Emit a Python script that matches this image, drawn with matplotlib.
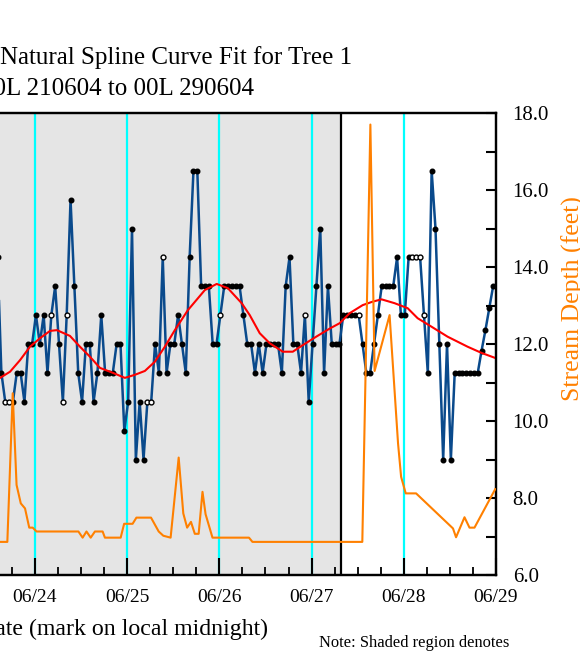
import numpy as np
import matplotlib
matplotlib.use("Agg")
import matplotlib.pyplot as plt
from matplotlib.ticker import MultipleLocator

plt.rcParams['font.family'] = ['Liberation Serif', 'DejaVu Serif']

# x axis is hours since 06/21 00:00 local; only the last days are in view
day_hours = [72, 96, 120, 144, 168, 192]
day_labels = ["06/24", "06/25", "06/26", "06/27", "06/28", "06/29"]
shade_end = 151.6  # end of shaded region (hours)

# hourly sap readings (left axis), first sample 06/23 14:00
sap_start = 62.25
sap_vals = [14.25, 11.25, 10.5, 10.5, 10.5, 11.25, 11.25, 10.5, 12.0, 12.0,
            12.75, 12.0, 12.75, 11.25, 12.75, 13.5, 12.0, 10.5, 12.75, 15.75,
            13.5, 11.25, 10.5, 12.0, 12.0, 10.5, 11.25, 12.75, 11.25, 11.25,
            11.25, 12.0, 12.0, 9.75, 10.5, 15.0, 9.0, 10.5, 9.0, 10.5,
            10.5, 12.0, 11.25, 14.25, 11.25, 12.0, 12.0, 12.75, 12.0, 11.25,
            14.25, 16.5, 16.5, 13.5, 13.5, 13.5, 12.0, 12.0, 12.75, 13.5,
            13.5, 13.5, 13.5, 13.5, 12.75, 12.0, 12.0, 11.25, 12.0, 11.25,
            12.0, 12.0, 12.0, 12.0, 11.25, 13.5, 14.25, 12.0, 12.0, 11.25,
            12.75, 10.5, 12.0, 13.5, 15.0, 11.25, 13.5, 12.0, 12.0, 12.0,
            12.75, 12.75, 12.75, 12.75, 12.75, 12.0, 11.25, 11.25, 12.0, 12.75,
            13.5, 13.5, 13.5, 13.5, 14.25, 12.75, 12.75, 14.25, 14.25, 14.25,
            14.25, 12.75, 11.25, 16.5, 15.0, 12.0, 9.0, 12.0, 9.0, 11.25,
            11.25, 11.25, 11.25, 11.25, 11.25, 11.25, 11.83, 12.36, 12.93, 13.5]
# readings drawn as open circles (index into sap_vals)
sap_open = [2, 3, 14, 17, 18, 39, 40, 43, 58, 80, 94, 108, 109, 110, 111]

# natural spline fit
fit_hours = [61, 62.9, 65.5, 68.1, 70.7, 73.3, 75.9, 77.7, 81.1, 83.7, 86.3, 88.9,
             92.3, 95.4, 98, 100.6, 103.2, 105.8, 108.4, 111.8, 116.2, 119.3, 122.2,
             125.8, 127.9, 130.5, 133.1, 136.5, 139.1, 141.7, 145.2, 148.7, 151.3,
             153.9, 157.3, 159.9, 162.2, 165.6, 169, 171.6, 175.2, 179.4, 184.6,
             188.2, 192]
fit_vals = [11.0, 11.12, 11.28, 11.58, 11.93, 12.15, 12.34, 12.36, 12.21, 11.93, 11.67,
            11.38, 11.25, 11.12, 11.2, 11.3, 11.54, 11.93, 12.36, 12.88, 13.4, 13.56,
            13.45, 13.06, 12.75, 12.28, 12.02, 11.8, 11.8, 11.97, 12.19, 12.4, 12.54,
            12.8, 13.01, 13.1, 13.16, 13.06, 12.93, 12.67, 12.45, 12.19, 11.93, 11.77,
            11.63]

# stream depth (right axis)
depth_hours = [55, 64.8, 66.2, 67.2, 68.3, 69.4, 70.5, 71.4, 72.4, 83.3, 84.4, 85.4,
               86.5, 87.6, 89.6, 90.2, 94.3, 95.2, 97.4, 98.4, 102.2, 104.2, 105.4,
               107.3, 109.4, 110.6, 111.6, 112.6, 113.6, 114.6, 115.6, 116.4, 118.2,
               127.7, 128.6, 157.2, 159.3, 160.4, 164.3, 166.5, 167.3, 168.5, 171.2,
               180.8, 181.6, 183.8, 185.1, 186.4, 191.8]
depth_vals = [6.86, 6.86, 10.72, 8.34, 7.86, 7.73, 7.23, 7.23, 7.13, 7.13, 6.97, 7.13,
              6.97, 7.13, 7.13, 6.97, 6.97, 7.33, 7.33, 7.49, 7.49, 7.13, 7.02,
              6.97, 9.05, 7.6, 7.23, 7.38, 7.07, 7.07, 8.16, 7.58, 6.97,
              6.97, 6.86, 6.86, 17.7, 11.3, 12.75, 9.42, 8.55, 8.12, 8.12,
              7.21, 6.98, 7.5, 7.23, 7.23, 8.23]

W, H = 580, 652
fig = plt.figure(figsize=(W / 100, H / 100), dpi=100)
x0 = -241.6
ax = fig.add_axes([x0 / W, 77 / H, (496 - x0) / W, 462 / H])
ax.set_xlim(0, 192)
ax.set_ylim(6, 18)

ax.axvspan(0, shade_end, color='#e5e5e5', zorder=0, lw=0)
for d in range(1, 8):
    ax.axvline(24 * d, color='#00ffff', lw=1.6, zorder=1)
ax.axvline(shade_end, color='black', lw=1.6, zorder=1)

sap_hours = sap_start + np.arange(len(sap_vals))
sap = np.array(sap_vals)
ax.plot(sap_hours, sap, color='#0a4a8c', lw=1.8, zorder=3)
filled = np.ones(len(sap), bool)
filled[sap_open] = False
ax.plot(sap_hours[filled], sap[filled], 'o', ms=3.3, color='black', zorder=4)
ax.plot(sap_hours[~filled], sap[~filled], 'o', ms=3.5, mfc='white', mec='black',
        mew=1.0, zorder=4)
ax.plot(fit_hours, fit_vals, color='#ff0000', lw=1.5, zorder=5)

ax.set_xticks(day_hours)
ax.set_xticklabels(day_labels, fontsize=14)
ax.xaxis.set_minor_locator(MultipleLocator(6))
ax.tick_params(axis='x', which='major', direction='in', length=12, width=1.5, pad=10)
ax.tick_params(axis='x', which='minor', direction='in', length=6, width=1.3)
ax.tick_params(axis='y', left=False, labelleft=False)
for s in ax.spines.values():
    s.set_linewidth(1.6)

ax2 = ax.twinx()
ax2.set_ylim(6, 18)
ax2.plot(depth_hours, depth_vals, color='#ff8000', lw=1.5, zorder=6)
ax2.yaxis.set_minor_locator(MultipleLocator(1))
ax2.set_yticks(np.arange(6, 18.1, 2))
ax2.set_yticklabels([f"{v:.1f}" for v in np.arange(6, 18.1, 2)], fontsize=15)
ax2.tick_params(axis='y', which='both', direction='in', length=7, width=1.5, pad=12)
for s in ax2.spines.values():
    s.set_linewidth(1.6)

fig.text(352 / W, 1 - 58 / H, "Natural Spline Curve Fit for Tree 1", ha='right',
         va='center', fontsize=18)
fig.text(254 / W, 1 - 89 / H, "00L 210604 to 00L 290604", ha='right', va='center',
         fontsize=18)
fig.text(268 / W, 1 - 629 / H, "Date (mark on local midnight)", ha='right',
         va='center', fontsize=17.2)
fig.text(319 / W, 1 - 643 / H, "Note: Shaded region denotes", ha='left',
         va='center', fontsize=11.9)
fig.text(562 / W, 1 - 299 / H, "Stream Depth (feet)", rotation=90, ha='left',
         va='center', fontsize=18.5, color='#ff8000')

fig.savefig("out.png", dpi=100)
